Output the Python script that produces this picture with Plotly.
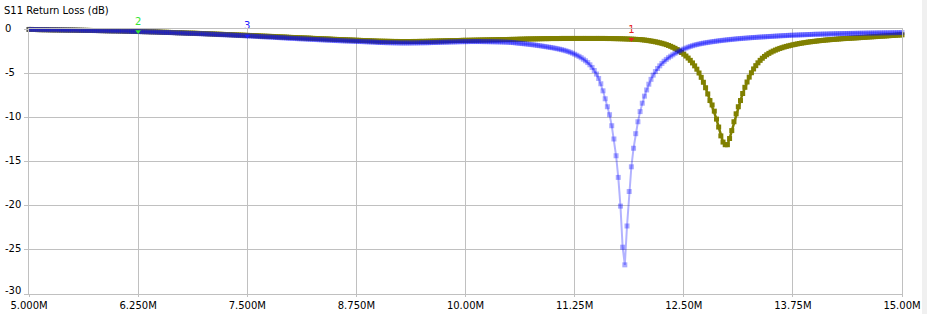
import numpy as np
import plotly.graph_objects as go

# ---- sweep definition (VNA sweep: start, stop, number of points) ----
FREQ_START_MHZ = 5.0
FREQ_STOP_MHZ = 15.0
SWEEP_POINTS = 401

# ---- S11 return loss (dB), olive trace ----
s11_olive_db = [
    -0.05,-0.05,-0.06,-0.06,-0.07,-0.07,-0.08,-0.08,-0.08,-0.09,-0.09,-0.10,-0.10,-0.10,-0.11,-0.11,-0.11,-0.12,-0.12,-0.12,
    -0.12,-0.13,-0.13,-0.14,-0.14,-0.15,-0.15,-0.16,-0.16,-0.17,-0.17,-0.17,-0.18,-0.18,-0.19,-0.19,-0.20,-0.20,-0.21,-0.21,
    -0.21,-0.22,-0.22,-0.23,-0.24,-0.24,-0.25,-0.26,-0.26,-0.27,-0.28,-0.28,-0.29,-0.30,-0.30,-0.31,-0.32,-0.32,-0.33,-0.34,
    -0.35,-0.36,-0.37,-0.37,-0.38,-0.39,-0.40,-0.41,-0.42,-0.42,-0.43,-0.44,-0.45,-0.46,-0.47,-0.47,-0.48,-0.49,-0.50,-0.51,
    -0.52,-0.53,-0.54,-0.55,-0.56,-0.57,-0.58,-0.59,-0.60,-0.61,-0.62,-0.63,-0.64,-0.65,-0.66,-0.67,-0.68,-0.69,-0.70,-0.71,
    -0.72,-0.73,-0.74,-0.75,-0.76,-0.77,-0.79,-0.80,-0.81,-0.82,-0.83,-0.84,-0.85,-0.87,-0.88,-0.89,-0.90,-0.91,-0.92,-0.94,
    -0.95,-0.96,-0.97,-0.98,-0.99,-1.00,-1.01,-1.02,-1.03,-1.04,-1.06,-1.07,-1.08,-1.09,-1.10,-1.11,-1.12,-1.13,-1.14,-1.16,
    -1.17,-1.18,-1.19,-1.20,-1.21,-1.22,-1.23,-1.24,-1.25,-1.26,-1.27,-1.28,-1.29,-1.30,-1.31,-1.32,-1.33,-1.34,-1.35,-1.36,
    -1.37,-1.38,-1.38,-1.39,-1.39,-1.40,-1.40,-1.41,-1.41,-1.41,-1.42,-1.42,-1.42,-1.42,-1.42,-1.42,-1.41,-1.41,-1.41,-1.40,
    -1.40,-1.40,-1.39,-1.39,-1.38,-1.37,-1.37,-1.36,-1.35,-1.35,-1.34,-1.33,-1.33,-1.32,-1.31,-1.31,-1.30,-1.30,-1.29,-1.28,
    -1.28,-1.28,-1.27,-1.27,-1.26,-1.26,-1.25,-1.25,-1.24,-1.24,-1.23,-1.23,-1.22,-1.22,-1.21,-1.21,-1.20,-1.20,-1.19,-1.19,
    -1.18,-1.18,-1.17,-1.17,-1.16,-1.15,-1.15,-1.14,-1.13,-1.13,-1.12,-1.12,-1.11,-1.11,-1.10,-1.10,-1.09,-1.09,-1.09,-1.08,
    -1.08,-1.08,-1.08,-1.08,-1.07,-1.07,-1.07,-1.07,-1.07,-1.07,-1.07,-1.07,-1.07,-1.07,-1.07,-1.07,-1.07,-1.07,-1.07,-1.07,
    -1.07,-1.07,-1.07,-1.07,-1.07,-1.08,-1.08,-1.08,-1.09,-1.09,-1.10,-1.10,-1.11,-1.12,-1.13,-1.14,-1.15,-1.16,-1.17,-1.19,
    -1.20,-1.22,-1.25,-1.28,-1.32,-1.36,-1.40,-1.45,-1.50,-1.56,-1.62,-1.69,-1.77,-1.86,-1.96,-2.07,-2.19,-2.33,-2.49,-2.66,
    -2.85,-3.06,-3.29,-3.55,-3.84,-4.17,-4.55,-4.98,-5.47,-6.03,-6.65,-7.35,-8.10,-8.60,-9.30,-10.20,-11.10,-12.10,-12.80,-13.10,
    -13.10,-12.40,-11.50,-10.50,-9.60,-8.80,-8.10,-7.30,-6.60,-6.00,-5.45,-4.95,-4.52,-4.15,-3.83,-3.55,-3.31,-3.10,-2.92,-2.76,
    -2.62,-2.50,-2.39,-2.29,-2.20,-2.12,-2.04,-1.97,-1.91,-1.85,-1.79,-1.74,-1.69,-1.64,-1.60,-1.56,-1.52,-1.48,-1.45,-1.42,
    -1.39,-1.36,-1.33,-1.30,-1.28,-1.25,-1.23,-1.21,-1.19,-1.17,-1.15,-1.13,-1.11,-1.09,-1.08,-1.06,-1.05,-1.03,-1.02,-1.00,
    -0.99,-0.97,-0.95,-0.94,-0.92,-0.90,-0.89,-0.87,-0.86,-0.84,-0.82,-0.81,-0.79,-0.78,-0.76,-0.74,-0.73,-0.71,-0.69,-0.68,
    -0.66,
]

# ---- S11 return loss (dB), blue trace ----
s11_blue_db = [
    -0.05,-0.05,-0.06,-0.06,-0.07,-0.07,-0.08,-0.08,-0.08,-0.09,-0.09,-0.10,-0.10,-0.10,-0.11,-0.11,-0.12,-0.12,-0.12,-0.13,
    -0.13,-0.13,-0.14,-0.14,-0.15,-0.15,-0.16,-0.16,-0.17,-0.17,-0.18,-0.18,-0.19,-0.19,-0.20,-0.20,-0.21,-0.21,-0.22,-0.22,
    -0.22,-0.23,-0.23,-0.24,-0.25,-0.25,-0.26,-0.27,-0.28,-0.28,-0.29,-0.30,-0.31,-0.31,-0.32,-0.33,-0.34,-0.34,-0.35,-0.36,
    -0.37,-0.38,-0.39,-0.40,-0.40,-0.41,-0.42,-0.43,-0.44,-0.45,-0.46,-0.47,-0.48,-0.49,-0.50,-0.50,-0.51,-0.52,-0.53,-0.54,
    -0.55,-0.56,-0.57,-0.58,-0.59,-0.60,-0.62,-0.63,-0.64,-0.65,-0.66,-0.67,-0.68,-0.69,-0.71,-0.72,-0.73,-0.74,-0.75,-0.77,
    -0.78,-0.79,-0.80,-0.82,-0.83,-0.84,-0.86,-0.87,-0.88,-0.90,-0.91,-0.92,-0.94,-0.95,-0.96,-0.98,-0.99,-1.00,-1.02,-1.04,
    -1.05,-1.06,-1.07,-1.09,-1.10,-1.11,-1.12,-1.14,-1.15,-1.16,-1.17,-1.19,-1.20,-1.21,-1.22,-1.23,-1.25,-1.26,-1.27,-1.28,
    -1.30,-1.31,-1.32,-1.33,-1.34,-1.35,-1.36,-1.37,-1.38,-1.39,-1.40,-1.41,-1.42,-1.43,-1.44,-1.45,-1.46,-1.47,-1.48,-1.50,
    -1.52,-1.53,-1.53,-1.54,-1.55,-1.55,-1.56,-1.56,-1.57,-1.57,-1.58,-1.58,-1.58,-1.58,-1.58,-1.58,-1.57,-1.57,-1.57,-1.56,
    -1.56,-1.56,-1.55,-1.55,-1.54,-1.53,-1.53,-1.52,-1.51,-1.50,-1.49,-1.49,-1.48,-1.47,-1.46,-1.46,-1.45,-1.44,-1.44,-1.43,
    -1.43,-1.43,-1.42,-1.42,-1.42,-1.42,-1.42,-1.42,-1.43,-1.43,-1.43,-1.44,-1.44,-1.45,-1.45,-1.46,-1.46,-1.47,-1.48,-1.49,
    -1.50,-1.52,-1.54,-1.57,-1.60,-1.62,-1.65,-1.67,-1.70,-1.73,-1.76,-1.79,-1.82,-1.86,-1.89,-1.93,-1.97,-2.01,-2.05,-2.09,
    -2.13,-2.18,-2.23,-2.28,-2.34,-2.40,-2.47,-2.55,-2.64,-2.74,-2.85,-2.97,-3.10,-3.25,-3.42,-3.60,-3.80,-4.05,-4.35,-4.70,
    -5.10,-5.60,-6.20,-7.00,-7.90,-8.80,-9.70,-10.95,-12.45,-14.35,-16.80,-20.05,-24.70,-26.70,-22.30,-18.40,-15.60,-13.50,-11.85,-10.50,
    -9.35,-8.40,-7.60,-6.90,-6.25,-5.70,-5.22,-4.82,-4.47,-4.17,-3.90,-3.65,-3.44,-3.25,-3.08,-2.92,-2.75,-2.62,-2.50,-2.38,
    -2.27,-2.16,-2.06,-1.97,-1.89,-1.82,-1.76,-1.70,-1.65,-1.60,-1.56,-1.52,-1.48,-1.44,-1.41,-1.37,-1.34,-1.31,-1.28,-1.25,
    -1.22,-1.20,-1.17,-1.15,-1.12,-1.10,-1.08,-1.06,-1.04,-1.02,-1.00,-0.98,-0.96,-0.95,-0.93,-0.91,-0.90,-0.88,-0.87,-0.85,
    -0.84,-0.82,-0.81,-0.79,-0.78,-0.76,-0.75,-0.74,-0.72,-0.71,-0.70,-0.69,-0.68,-0.67,-0.66,-0.65,-0.64,-0.63,-0.62,-0.61,
    -0.60,-0.59,-0.59,-0.58,-0.57,-0.57,-0.56,-0.55,-0.55,-0.54,-0.53,-0.53,-0.52,-0.52,-0.51,-0.51,-0.50,-0.50,-0.49,-0.49,
    -0.48,-0.48,-0.47,-0.47,-0.46,-0.46,-0.46,-0.45,-0.45,-0.44,-0.44,-0.44,-0.43,-0.43,-0.43,-0.42,-0.42,-0.42,-0.41,-0.41,
    -0.40,
]

# ---- axis ticks ----
x_tick_vals = [5.0, 6.25, 7.5, 8.75, 10.0, 11.25, 12.5, 13.75, 15.0]
x_tick_text = ["5.000M", "6.250M", "7.500M", "8.750M", "10.00M", "11.25M", "12.50M", "13.75M", "15.00M"]
y_tick_vals = [0, -5, -10, -15, -20, -25, -30]
y_tick_text = ["0", "-5", "-10", "-15", "-20", "-25", "-30"]

# ---- markers ----
marker_names = ["1", "2", "3"]
marker_freqs = [11.9, 6.25, 7.5]
marker_series = ["olive", "blue", "blue"]
marker_colors = ["#e62020", "#33e633", "#2020ff"]

chart_title = "S11 Return Loss (dB)"

# ---------------------------------------------------------------
freq = np.linspace(FREQ_START_MHZ, FREQ_STOP_MHZ, SWEEP_POINTS)
assert len(s11_olive_db) == SWEEP_POINTS and len(s11_blue_db) == SWEEP_POINTS
step = (FREQ_STOP_MHZ - FREQ_START_MHZ) / (SWEEP_POINTS - 1)
series = {"olive": s11_olive_db, "blue": s11_blue_db}

FONT = "DejaVu Sans"
GRID = "#c0c0c0"

W, H = 927, 314
ML, MR, MT, MB = 29, 25, 29, 20
PW, PH = W - ML - MR, H - MT - MB

fig = go.Figure()

fig.add_trace(go.Scatter(
    x=freq, y=s11_olive_db, mode="lines+markers",
    line=dict(color="#808000", width=2.5),
    marker=dict(symbol="square", size=5, color="#808000", line=dict(width=0)),
    cliponaxis=False, hoverinfo="skip", showlegend=False,
))
fig.add_trace(go.Scatter(
    x=freq, y=s11_blue_db, mode="lines+markers",
    line=dict(color="rgba(0,0,255,0.30)", width=2),
    marker=dict(symbol="square", size=5, color="rgba(0,0,255,0.33)", line=dict(width=0)),
    cliponaxis=False, hoverinfo="skip", showlegend=False,
))

mk_y = [series[s][int(round((f - FREQ_START_MHZ) / step))] for f, s in zip(marker_freqs, marker_series)]
fig.add_trace(go.Scatter(
    x=marker_freqs, y=mk_y, mode="markers+text",
    text=marker_names, textposition="top center",
    textfont=dict(family=FONT, size=10, color=marker_colors),
    marker=dict(symbol="triangle-down", size=5, color=marker_colors, line=dict(width=0)),
    cliponaxis=False, hoverinfo="skip", showlegend=False,
))

annotations = [dict(
    text=chart_title, xref="paper", yref="paper",
    x=(2 - ML) / PW, y=1 + (MT - 10.5) / PH, xanchor="left", yanchor="middle",
    showarrow=False, font=dict(family=FONT, size=10, color="#000000"),
)]
for v, t in zip(y_tick_vals, y_tick_text):
    annotations.append(dict(
        text=t, xref="paper", yref="y", x=(3 - ML) / PW, y=v,
        xanchor="left", yanchor="middle", showarrow=False,
        yshift=4 if v == min(y_tick_vals) else 1,
        font=dict(family=FONT, size=10, color="#000000"),
    ))

fig.update_layout(
    width=W, height=H, autosize=False,
    margin=dict(l=ML, r=MR, t=MT, b=MB, pad=0, autoexpand=False),
    paper_bgcolor="white", plot_bgcolor="white",
    font=dict(family=FONT, size=10, color="#000000"),
    annotations=annotations,
    shapes=[dict(type="rect", xref="paper", yref="paper",
                 x0=(922 - ML) / PW, x1=(930 - ML) / PW, y0=-1, y1=2,
                 fillcolor="#f0f0f0", line=dict(width=0), layer="below")],
    xaxis=dict(
        range=[FREQ_START_MHZ, FREQ_STOP_MHZ], tickmode="array",
        tickvals=x_tick_vals, ticktext=x_tick_text, automargin=False,
        showgrid=True, gridcolor=GRID, gridwidth=1,
        ticks="outside", ticklen=2, tickcolor=GRID,
        showline=True, linecolor=GRID, linewidth=1, mirror=True,
        zeroline=False, tickfont=dict(family=FONT, size=10, color="#000000"),
        fixedrange=True,
    ),
    yaxis=dict(
        range=[-30, 0], tickmode="array", tickvals=y_tick_vals,
        showticklabels=False, automargin=False,
        showgrid=True, gridcolor=GRID, gridwidth=1,
        ticks="outside", ticklen=4, tickcolor=GRID,
        showline=True, linecolor=GRID, linewidth=1, mirror=True,
        zeroline=False, fixedrange=True,
    ),
)

fig.write_html("out.html", config={"displayModeBar": False})
